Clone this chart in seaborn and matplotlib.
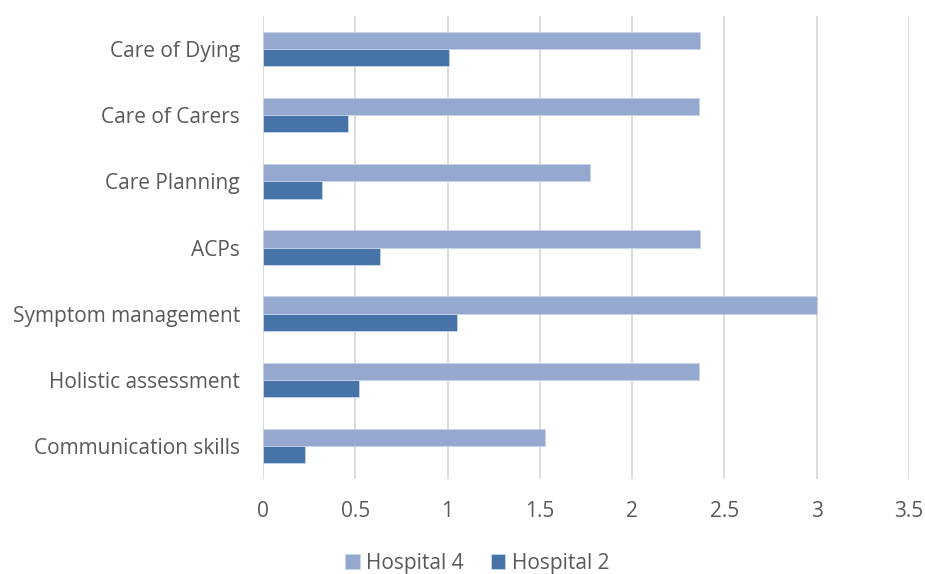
import matplotlib
matplotlib.use("Agg")
import matplotlib.pyplot as plt
import seaborn as sns
import pandas as pd

categories = ["Care of Dying", "Care of Carers", "Care Planning", "ACPs",
              "Symptom management", "Holistic assessment", "Communication skills"]
hospital_4 = [2.37, 2.36, 1.77, 2.37, 3.0, 2.36, 1.53]
hospital_2 = [1.01, 0.46, 0.32, 0.635, 1.05, 0.52, 0.23]
series = ["Hospital 4", "Hospital 2"]
x_ticks = [0, 0.5, 1, 1.5, 2, 2.5, 3, 3.5]
x_tick_labels = ["0", "0.5", "1", "1.5", "2", "2.5", "3", "3.5"]

df = pd.DataFrame({
    "Topic": categories * 2,
    "Score": hospital_4 + hospital_2,
    "Site": [series[0]] * len(categories) + [series[1]] * len(categories),
})

sns.set_theme(style="white")
plt.rcParams["font.family"] = ["Open Sans", "DejaVu Sans"]
text_color = "#595959"

fig = plt.figure(figsize=(9.25, 5.74), dpi=100)
ax = fig.add_axes([0.2843, 0.1655, 0.6984, 0.8065])

sns.barplot(data=df, y="Topic", x="Score", hue="Site", order=categories,
            hue_order=series, palette=["#95a9d0", "#4674a9"], saturation=1,
            width=0.52, orient="h", edgecolor="#c9d5ea", linewidth=0.6,
            ax=ax, legend=True)

ax.set_xlim(0, 3.5)
ax.set_ylim(6.5, -0.5)
ax.set_xticks(x_ticks)
ax.set_xticklabels(x_tick_labels)
ax.set_xlabel("")
ax.set_ylabel("")
ax.tick_params(axis="both", length=0, labelsize=15, colors=text_color)
ax.tick_params(axis="x", pad=16)
ax.tick_params(axis="y", pad=16.5)
for v in x_ticks:
    ax.axvline(v, color="#d9d9d9", lw=1.3, zorder=0)
for s in ax.spines.values():
    s.set_visible(False)

handles, labels = ax.get_legend_handles_labels()
ax.legend_.remove()
fig.legend(handles, labels, loc="center", bbox_to_anchor=(0.516, 0.019),
           ncol=2, frameon=False, fontsize=15, handlelength=0.7,
           handleheight=0.7, handletextpad=0.3, columnspacing=1.3,
           labelcolor=text_color)

fig.savefig("out.png", dpi=100)
